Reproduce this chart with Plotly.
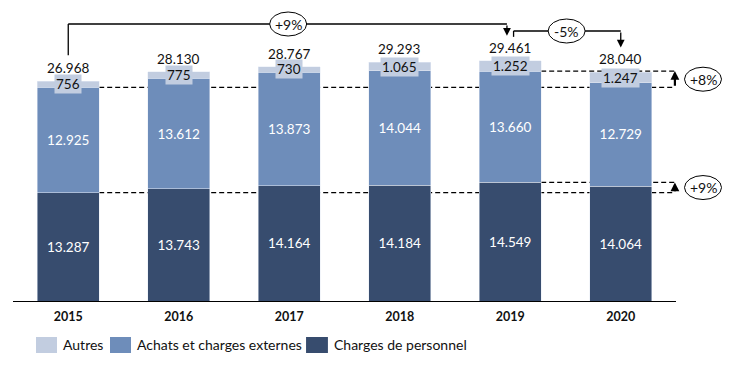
import plotly.graph_objects as go

years = ["2015", "2016", "2017", "2018", "2019", "2020"]
personnel = [13287, 13743, 14164, 14184, 14549, 14064]
achats = [12925, 13612, 13873, 14044, 13660, 12729]
autres = [756, 775, 730, 1065, 1252, 1247]
totals = [26968, 28130, 28767, 29293, 29461, 28040]
series_names = ["Autres", "Achats et charges externes", "Charges de personnel"]
change_labels = ["+9%", "-5%", "+8%", "+9%"]

C_AUT = "#C2CDE0"
C_ACH = "#6E8DBA"
C_PER = "#374C6E"
FONT = "Lato"
TXT = "#111"


def fmt(v):
    return f"{v:,}".replace(",", ".")


YMAX = 35700
PLOT_H = 291
PX = YMAX / PLOT_H  # data units per pixel
PLOT_W = 663

fig = go.Figure()
fig.add_trace(go.Bar(x=years, y=personnel, name=series_names[2], marker_color=C_PER,
                     text=[fmt(v) for v in personnel], textposition="inside",
                     insidetextanchor="middle", textangle=0,
                     textfont=dict(color="white", size=13.5, family=FONT)))
fig.add_trace(go.Bar(x=years, y=achats, name=series_names[1], marker_color=C_ACH,
                     text=[fmt(v) for v in achats], textposition="inside",
                     insidetextanchor="middle", textangle=0,
                     textfont=dict(color="white", size=13.5, family=FONT)))
fig.add_trace(go.Bar(x=years, y=autres, name=series_names[0], marker_color=C_AUT))

annotations = []
shapes = []

# labels for Autres and totals
for i in range(len(years)):
    base = personnel[i] + achats[i]
    annotations.append(dict(x=i, y=base + autres[i] / 2, xref="x", yref="y",
                            text=fmt(autres[i]), showarrow=False, bgcolor=C_AUT,
                            borderpad=1, font=dict(size=13.5, color=TXT, family=FONT)))
    annotations.append(dict(x=i, y=totals[i], xref="x", yref="y", yanchor="bottom",
                            yshift=3, text=fmt(totals[i]), showarrow=False,
                            font=dict(size=13.5, color=TXT, family=FONT)))

# top brackets
yb1 = 277 * PX
yb2 = 270 * PX
x_arr1 = 3.97
x_b2 = 4.03
LW = 1.3
shapes.append(dict(type="line", xref="x", yref="y", x0=0, x1=0,
                   y0=totals[0] + 26 * PX, y1=yb1, line=dict(color="black", width=LW)))
shapes.append(dict(type="line", xref="x", yref="y", x0=0, x1=x_arr1,
                   y0=yb1, y1=yb1, line=dict(color="black", width=LW)))
annotations.append(dict(x=x_arr1, y=totals[4] + 25 * PX, ax=x_arr1, ay=yb1,
                        xref="x", yref="y", axref="x", ayref="y", text="",
                        showarrow=True, arrowhead=2, arrowsize=1.2, arrowwidth=LW,
                        arrowcolor="black"))
shapes.append(dict(type="line", xref="x", yref="y", x0=x_b2, x1=x_b2,
                   y0=totals[4] + 24 * PX, y1=yb2, line=dict(color="black", width=LW)))
shapes.append(dict(type="line", xref="x", yref="y", x0=x_b2, x1=5,
                   y0=yb2, y1=yb2, line=dict(color="black", width=LW)))
annotations.append(dict(x=5, y=totals[5] + 25 * PX, ax=5, ay=yb2,
                        xref="x", yref="y", axref="x", ayref="y", text="",
                        showarrow=True, arrowhead=2, arrowsize=1.2, arrowwidth=LW,
                        arrowcolor="black"))

# right-side comparisons
x_end = 5.49
x_lab_paper = (703 - 13) / PLOT_W
a15 = personnel[0] + achats[0]
a19 = personnel[4] + achats[4]
dash = "5px,3px"
for (lo, hi) in [(a15, a19), (personnel[0], personnel[4])]:
    shapes.append(dict(type="line", xref="x", yref="y", x0=0.28, x1=x_end, y0=lo, y1=lo,
                       layer="below", line=dict(color="black", width=1.2, dash=dash)))
    shapes.append(dict(type="line", xref="x", yref="y", x0=4.28, x1=x_end, y0=hi, y1=hi,
                       layer="below", line=dict(color="black", width=1.2, dash=dash)))
    annotations.append(dict(x=x_end, y=hi, ax=x_end, ay=lo,
                            xref="x", yref="y", axref="x", ayref="y", text="",
                            showarrow=True, arrowhead=2, arrowsize=0.8, arrowwidth=2.2,
                            arrowcolor="black"))

# ellipses with percentage labels
ell = [("x", 1.99, yb1, change_labels[0]), ("x", 4.51, yb2, change_labels[1]),
       ("paper", x_lab_paper, (a15 + a19) / 2, change_labels[2]),
       ("paper", x_lab_paper, (personnel[0] + personnel[4]) / 2, change_labels[3])]
for (xr, ex, ey, lab) in ell:
    shapes.append(dict(type="circle", xref=xr, yref="y", xsizemode="pixel",
                       ysizemode="pixel", xanchor=ex, yanchor=ey, x0=-18.5, x1=18.5,
                       y0=-12, y1=12, fillcolor="white",
                       line=dict(color="black", width=1)))
    annotations.append(dict(x=ex, y=ey, xref=xr, yref="y", text=lab, showarrow=False,
                            xanchor="center", yanchor="middle",
                            font=dict(size=14, color=TXT, family=FONT)))

# custom legend
leg = [(0.0347, 0.0664, 0.0724, series_names[0], C_AUT),
       (0.1463, 0.1780, 0.1840, series_names[1], C_ACH),
       (0.4420, 0.4750, 0.4810, series_names[2], C_PER)]
for (x0, x1, tx, name, col) in leg:
    shapes.append(dict(type="rect", xref="paper", yref="paper", x0=x0, x1=x1,
                       y0=-0.1237, y1=-0.1787, fillcolor=col, line=dict(width=0)))
    annotations.append(dict(x=tx, y=-0.1512, xref="paper", yref="paper", xanchor="left",
                            yanchor="middle", text=name, showarrow=False,
                            font=dict(size=14, color=TXT, family=FONT)))

fig.update_layout(
    width=730, height=367,
    margin=dict(l=13, r=54, t=10, b=66, autoexpand=False),
    barmode="stack", bargap=0.44,
    showlegend=False,
    plot_bgcolor="white", paper_bgcolor="white",
    font=dict(family=FONT, color=TXT),
    shapes=shapes, annotations=annotations,
    xaxis=dict(type="category", range=[-0.5, 5.5], showline=True, linecolor="black",
               linewidth=1.3, ticks="outside", ticklen=4, tickcolor="rgba(0,0,0,0)",
               tickfont=dict(size=12.5, family=FONT, color=TXT, weight="bold"),
               showgrid=False, zeroline=False, fixedrange=True),
    yaxis=dict(range=[0, YMAX], visible=False, showgrid=False, zeroline=False),
)

fig.write_html("out.html", config={"displayModeBar": False},
               post_script="document.body.style.margin='0px';document.body.style.padding='0px';")
